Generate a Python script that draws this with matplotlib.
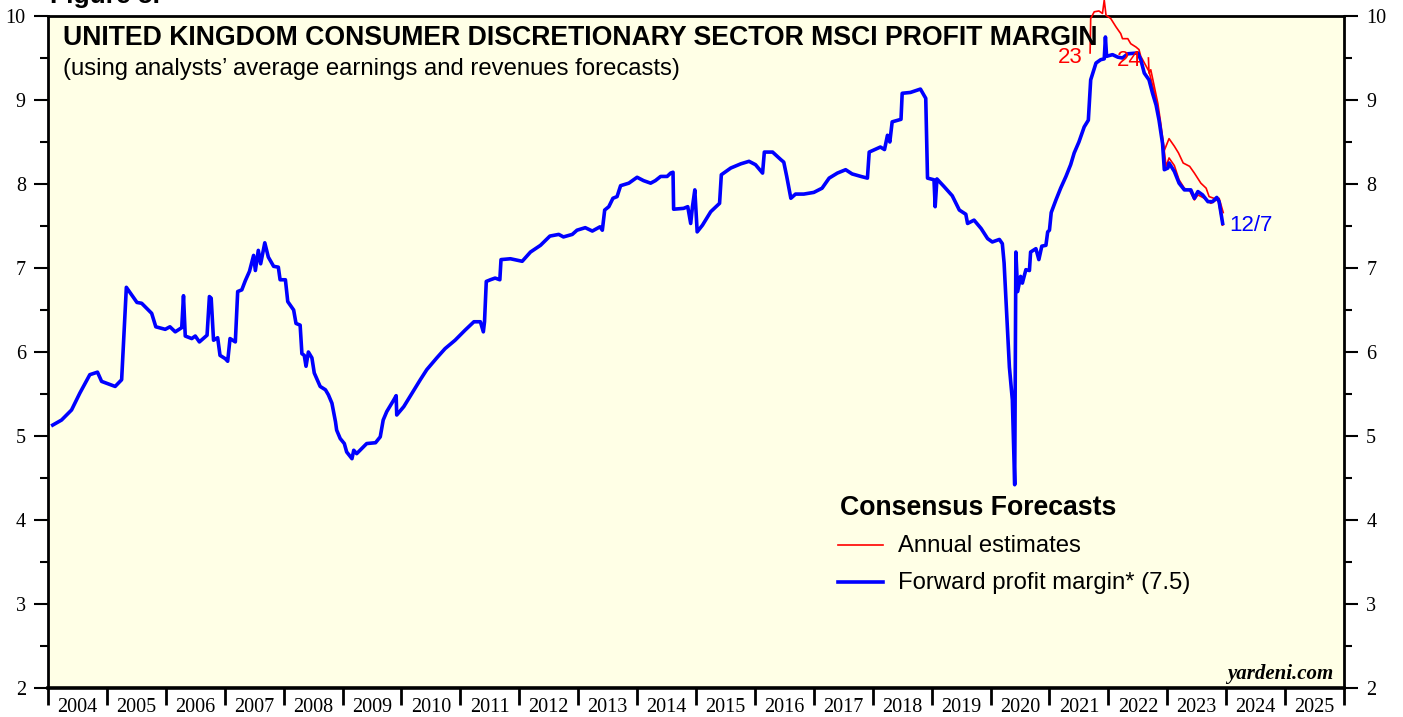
import matplotlib
matplotlib.use("Agg")
import matplotlib.pyplot as plt
import numpy as np
from matplotlib.ticker import FixedLocator, NullFormatter, FixedFormatter

# ---------------- data ----------------
fwd_year = [2004.08, 2004.23, 2004.40, 2004.54, 2004.71, 2004.84, 2004.91, 2005.14, 2005.25, 2005.33,
            2005.42, 2005.51, 2005.59, 2005.76, 2005.83, 2005.99, 2006.07, 2006.16, 2006.27, 2006.30,
            2006.33, 2006.44, 2006.50, 2006.57, 2006.70, 2006.74, 2006.77, 2006.81, 2006.88, 2006.92,
            2007.01, 2007.05, 2007.09, 2007.18, 2007.22, 2007.29, 2007.35, 2007.42, 2007.49, 2007.52,
            2007.57, 2007.61, 2007.68, 2007.74, 2007.83, 2007.91, 2007.94, 2008.03, 2008.07, 2008.17,
            2008.21, 2008.28, 2008.31, 2008.35, 2008.38, 2008.42, 2008.48, 2008.52, 2008.62, 2008.71,
            2008.76, 2008.82, 2008.88, 2008.90, 2008.96, 2009.03, 2009.07, 2009.16, 2009.19, 2009.24,
            2009.41, 2009.56, 2009.64, 2009.69, 2009.75, 2009.87, 2009.91, 2009.92, 2010.04, 2010.18,
            2010.32, 2010.43, 2010.60, 2010.74, 2010.91, 2011.08, 2011.23, 2011.34, 2011.39, 2011.41,
            2011.44, 2011.51, 2011.59, 2011.67, 2011.69, 2011.85, 2012.05, 2012.19, 2012.36, 2012.52,
            2012.67, 2012.75, 2012.90, 2012.98, 2013.12, 2013.24, 2013.37, 2013.41, 2013.45, 2013.52,
            2013.59, 2013.66, 2013.72, 2013.86, 2014.00, 2014.11, 2014.23, 2014.31, 2014.40, 2014.51,
            2014.57, 2014.61, 2014.62, 2014.79, 2014.86, 2014.91, 2014.94, 2014.98, 2015.02, 2015.11,
            2015.25, 2015.40, 2015.43, 2015.59, 2015.76, 2015.90, 2016.01, 2016.13, 2016.16, 2016.30,
            2016.44, 2016.49, 2016.54, 2016.61, 2016.69, 2016.83, 2017.00, 2017.14, 2017.26, 2017.40,
            2017.54, 2017.65, 2017.80, 2017.91, 2017.94, 2018.13, 2018.20, 2018.25, 2018.29, 2018.33,
            2018.48, 2018.50, 2018.64, 2018.81, 2018.90, 2018.93, 2019.04, 2019.06, 2019.09, 2019.21,
            2019.35, 2019.47, 2019.58, 2019.61, 2019.72, 2019.84, 2019.95, 2020.03, 2020.15, 2020.20,
            2020.23, 2020.32, 2020.37, 2020.41, 2020.43, 2020.46, 2020.51, 2020.54, 2020.60, 2020.66,
            2020.68, 2020.77, 2020.82, 2020.87, 2020.94, 2020.97, 2021.00, 2021.03, 2021.11, 2021.19,
            2021.28, 2021.36, 2021.42, 2021.50, 2021.59, 2021.66, 2021.70, 2021.79, 2021.87, 2021.93,
            2021.95, 2021.97, 2022.07, 2022.16, 2022.24, 2022.33, 2022.50, 2022.55, 2022.61, 2022.69,
            2022.75, 2022.81, 2022.86, 2022.92, 2022.95, 2023.01, 2023.03, 2023.12, 2023.20, 2023.29,
            2023.40, 2023.46, 2023.52, 2023.60, 2023.69, 2023.77, 2023.84, 2023.88, 2023.94]
fwd_margin = [5.13, 5.19, 5.31, 5.51, 5.73, 5.76, 5.65, 5.59, 5.67, 6.77,
              6.68, 6.59, 6.58, 6.46, 6.30, 6.27, 6.30, 6.24, 6.29, 6.67,
              6.19, 6.16, 6.19, 6.12, 6.20, 6.66, 6.64, 6.14, 6.17, 5.96,
              5.92, 5.89, 6.16, 6.12, 6.72, 6.74, 6.85, 6.96, 7.15, 6.97,
              7.21, 7.05, 7.30, 7.13, 7.02, 7.01, 6.86, 6.86, 6.60, 6.50,
              6.34, 6.32, 5.98, 5.96, 5.83, 6.00, 5.93, 5.75, 5.59, 5.55,
              5.49, 5.39, 5.17, 5.07, 4.97, 4.91, 4.81, 4.73, 4.83, 4.79,
              4.91, 4.92, 4.99, 5.19, 5.29, 5.43, 5.48, 5.25, 5.35, 5.51,
              5.67, 5.79, 5.93, 6.04, 6.14, 6.26, 6.36, 6.36, 6.24, 6.36,
              6.84, 6.86, 6.88, 6.86, 7.10, 7.11, 7.08, 7.19, 7.27, 7.38,
              7.40, 7.37, 7.40, 7.45, 7.48, 7.44, 7.49, 7.45, 7.69, 7.73,
              7.83, 7.85, 7.98, 8.01, 8.08, 8.04, 8.01, 8.04, 8.09, 8.09,
              8.13, 8.14, 7.70, 7.71, 7.73, 7.53, 7.73, 7.93, 7.43, 7.51,
              7.67, 7.77, 8.11, 8.19, 8.24, 8.27, 8.23, 8.13, 8.38, 8.38,
              8.29, 8.26, 8.09, 7.83, 7.88, 7.88, 7.90, 7.95, 8.07, 8.13,
              8.17, 8.12, 8.09, 8.07, 8.38, 8.44, 8.41, 8.58, 8.50, 8.74,
              8.77, 9.08, 9.09, 9.13, 9.02, 8.07, 8.05, 7.73, 8.06, 7.97,
              7.86, 7.69, 7.64, 7.53, 7.57, 7.47, 7.35, 7.31, 7.34, 7.29,
              7.06, 5.82, 5.43, 4.42, 7.19, 6.72, 6.90, 6.82, 6.98, 6.97,
              7.19, 7.23, 7.10, 7.26, 7.27, 7.43, 7.45, 7.66, 7.81, 7.95,
              8.09, 8.23, 8.37, 8.50, 8.68, 8.76, 9.24, 9.44, 9.48, 9.49,
              9.75, 9.52, 9.54, 9.51, 9.50, 9.55, 9.56, 9.48, 9.32, 9.24,
              9.08, 8.94, 8.76, 8.48, 8.17, 8.19, 8.25, 8.15, 8.01, 7.93,
              7.93, 7.83, 7.91, 7.87, 7.79, 7.79, 7.84, 7.79, 7.53]

est23_year = [2021.69, 2021.70, 2021.76, 2021.84, 2021.90, 2021.93, 2021.96, 2022.04, 2022.13, 2022.21,
              2022.24, 2022.33, 2022.38, 2022.47, 2022.52, 2022.55, 2022.69, 2022.80, 2022.86, 2022.92,
              2022.95, 2023.03, 2023.12, 2023.19, 2023.27, 2023.38, 2023.46, 2023.57, 2023.66, 2023.71,
              2023.83, 2023.88, 2023.95]
est23_margin = [9.56, 9.97, 10.05, 10.06, 10.03, 10.19, 10.01, 9.97, 9.87, 9.79,
                9.73, 9.73, 9.67, 9.63, 9.60, 9.52, 9.34, 9.04, 8.80, 8.52,
                8.40, 8.54, 8.45, 8.37, 8.25, 8.21, 8.13, 8.01, 7.95, 7.85,
                7.82, 7.83, 7.66]

est24_year = [2022.68, 2022.69, 2022.72, 2022.78, 2022.84, 2022.89, 2022.94, 2022.98, 2023.03, 2023.12,
              2023.20, 2023.29, 2023.38, 2023.46, 2023.52, 2023.63, 2023.74, 2023.86, 2023.94]
est24_margin = [9.50, 9.32, 9.36, 9.16, 8.96, 8.72, 8.45, 8.21, 8.31, 8.22,
                8.05, 7.95, 7.92, 7.81, 7.87, 7.83, 7.77, 7.82, 7.51]

year_labels = [str(y) for y in range(2004, 2026)]
y_ticks = [2, 3, 4, 5, 6, 7, 8, 9, 10]

# ---------------- figure ----------------
W, H = 1403, 717
fig = plt.figure(figsize=(W / 100, H / 100), dpi=100)
fig.patch.set_facecolor("white")

def fx(px):
    return px / W

def fy(py):
    return 1 - py / H

ax = fig.add_axes([fx(48), fy(688), fx(1344) - fx(48), fy(16) - fy(688)])
ax.set_facecolor("#FFFFE6")
ax.set_xlim(2004, 2026)
ax.set_ylim(2, 10)

blue = "#0000FF"
red = "#FF0000"

ax.plot(est23_year, est23_margin, color=red, lw=1.2, clip_on=False, zorder=3)
ax.plot(est24_year, est24_margin, color=red, lw=1.2, clip_on=False, zorder=3)
ax.plot(fwd_year, fwd_margin, color=blue, lw=2.6, zorder=4)

# spines
for s in ["left", "right", "top"]:
    ax.spines[s].set_linewidth(2.0)
ax.spines["bottom"].set_linewidth(2.6)

# y ticks both sides
serif = ["Liberation Serif", "DejaVu Serif"]
sans = ["Liberation Sans", "DejaVu Sans"]
ax.yaxis.set_major_locator(FixedLocator(y_ticks))
ax.yaxis.set_minor_locator(FixedLocator(np.arange(2.5, 10, 1.0)))
ax.tick_params(axis="y", which="major", direction="out", length=10, width=1.5,
               left=True, right=True, labelleft=True, labelright=True, pad=6,
               labelsize=14.5)
ax.tick_params(axis="y", which="minor", direction="out", length=5.5, width=1.5,
               left=True, right=True)
for lab in ax.get_yticklabels():
    lab.set_fontfamily(serif)

# x ticks: year boundaries as major, labels at mid-year as minor
ax.xaxis.set_major_locator(FixedLocator(np.arange(2004, 2027)))
ax.xaxis.set_major_formatter(NullFormatter())
ax.xaxis.set_minor_locator(FixedLocator(np.arange(2004.5, 2026, 1.0)))
ax.xaxis.set_minor_formatter(FixedFormatter(year_labels))
ax.tick_params(axis="x", which="major", direction="out", length=12, width=2.0)
ax.tick_params(axis="x", which="minor", length=0, pad=7.5, labelsize=14.5)
for lab in ax.get_xticklabels(minor=True):
    lab.set_fontfamily(serif)

# texts
fig.text(fx(63), fy(45), "UNITED KINGDOM CONSUMER DISCRETIONARY SECTOR MSCI PROFIT MARGIN",
         fontsize=19.2, fontweight="bold", family=sans, va="baseline", ha="left")
fig.text(fx(63), fy(75), "(using analysts\u2019 average earnings and revenues forecasts)",
         fontsize=17.2, family=sans, va="baseline", ha="left")
fig.text(fx(50), fy(3), "Figure 5.", fontsize=19, fontweight="bold", family=sans,
         va="baseline", ha="left")

fig.text(fx(1058), fy(63), "23", color=red, fontsize=16, family=sans, va="baseline")
fig.text(fx(1117), fy(66), "24", color=red, fontsize=16, family=sans, va="baseline")
fig.text(fx(1229), fy(231), "12/7", color=blue, fontsize=16, family=sans, va="baseline")

# legend
fig.text(fx(840), fy(515), "Consensus Forecasts", fontsize=19.2, fontweight="bold",
         family=sans, va="baseline")
lx = [fx(838), fx(883)]
fig.add_artist(plt.Line2D(lx, [fy(545), fy(545)], color=red, lw=1.2))
fig.text(fx(898), fy(552), "Annual estimates", fontsize=17.2, family=sans, va="baseline")
fig.add_artist(plt.Line2D(lx, [fy(582), fy(582)], color=blue, lw=2.6))
fig.text(fx(898), fy(589), "Forward profit margin* (7.5)", fontsize=17.2, family=sans,
         va="baseline")

fig.text(fx(1333), fy(679), "yardeni.com", fontsize=15, fontweight="bold", style="italic",
         family=serif, ha="right", va="baseline")

fig.savefig("out.png", dpi=100, facecolor="white")
